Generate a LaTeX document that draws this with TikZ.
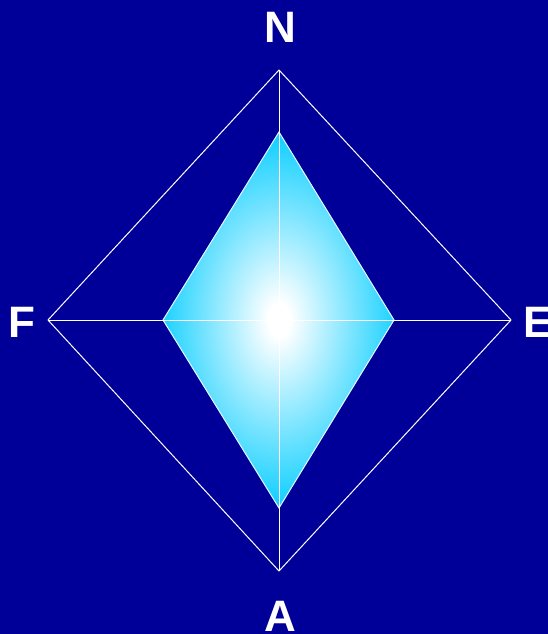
\documentclass[tikz,border=0pt]{standalone}
\usepackage{fontspec}
\setmainfont{Liberation Sans}
\definecolor{bg}{RGB}{0,0,153}
\definecolor{cy}{RGB}{0,204,255}
\definecolor{cyline}{RGB}{225,250,255}
\pgfdeclareradialshading{gem}{\pgfpoint{0bp}{0bp}}{color(0bp)=(white); color(2bp)=(white); color(24bp)=(cy); color(50bp)=(cy)}
\begin{document}
\begin{tikzpicture}[x=1pt,y=-1pt,
  frame/.style={white,line width=1pt},
  lbl/.style={white,font=\fontsize{44}{44}\selectfont\bfseries,inner sep=0pt,anchor=center}]
\fill[bg] (0,0) rectangle (548,634);
\useasboundingbox (0,0) rectangle (548,634);
% outer points
\coordinate (oN) at (279,70);
\coordinate (oE) at (511,320);
\coordinate (oA) at (279,571);
\coordinate (oF) at (48,320);
% inner points
\coordinate (iN) at (279,132);
\coordinate (iE) at (394,320);
\coordinate (iA) at (279,508);
\coordinate (iF) at (163,320);
\coordinate (c) at (279,320);
% inner shaded diamond
\begin{scope}
\clip (iN) -- (iE) -- (iA) -- (iF) -- cycle;
\shade[shading=gem] (c) ellipse [x radius=135, y radius=205];
\end{scope}
\draw[cyline,line width=1pt] (iN) -- (iE) -- (iA) -- (iF) -- cycle;
% outer diamond and axes
\draw[frame] (oN) -- (oE) -- (oA) -- (oF) -- cycle;
\draw[frame] (oN) -- (oA);
\draw[frame] (oF) -- (oE);
% labels
\node[lbl] (N) at (280,27) {N};
\node[lbl] (F) at (22,322) {F};
\node[lbl] (E) at (538,322) {E};
\node[lbl] (A) at (280,616) {A};
\end{tikzpicture}
\end{document}
